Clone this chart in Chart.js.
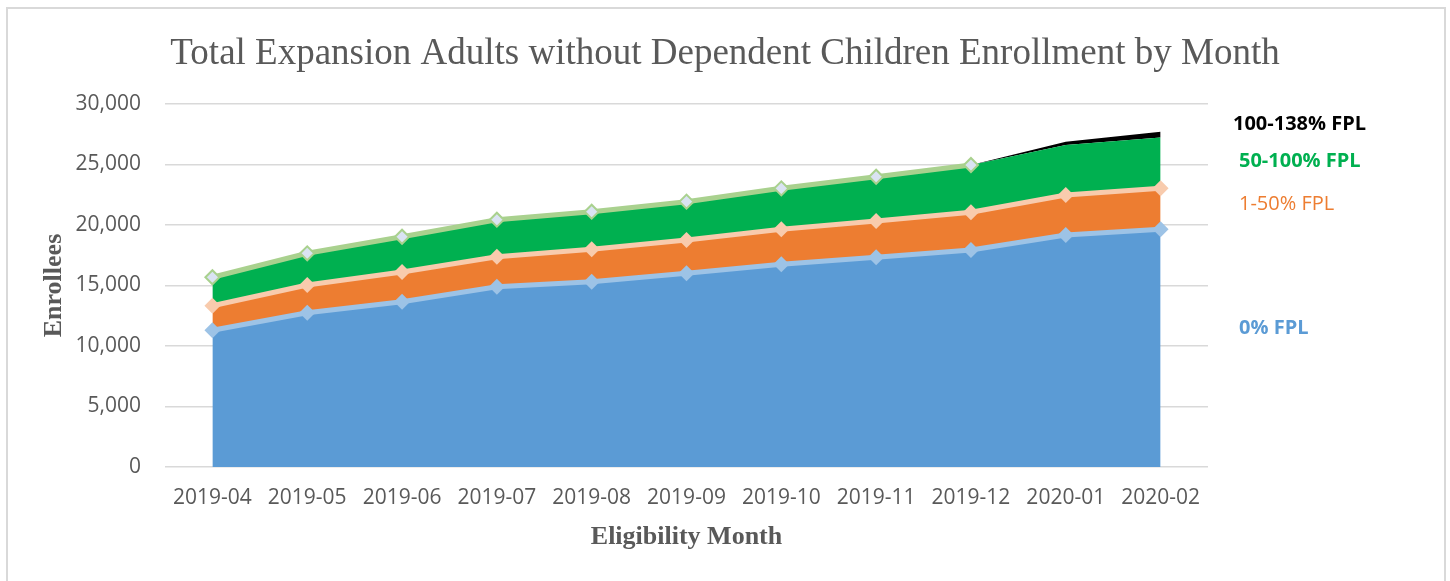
<!DOCTYPE html>
<html>
<head>
<meta charset="utf-8">
<title>Total Expansion Adults without Dependent Children Enrollment by Month</title>
<script src="https://cdn.jsdelivr.net/npm/chart.js@4.4.1/dist/chart.umd.min.js"></script>
<style>
  body { margin: 0; background: #fff; }
  #frame { position: absolute; left: 6px; top: 7px; width: 1436px; height: 600px; border: 2px solid #d9d9d9; }
  #wrap { position: absolute; left: 0; top: 0; width: 1450px; height: 581px; }
</style>
</head>
<body>
<div id="frame"></div>
<div id="wrap"><canvas id="chart" width="1450" height="581"></canvas></div>
<script>
// data (enrollees per FPL band, stacked)
const months = ["2019-04", "2019-05", "2019-06", "2019-07", "2019-08", "2019-09",
                "2019-10", "2019-11", "2019-12", "2020-01", "2020-02"];
const fpl0 = [11300, 12750, 13650, 14900, 15310, 16010, 16750, 17330, 17930, 19170, 19640];
const fpl1to50 = [2030, 2290, 2470, 2480, 2680, 2750, 2890, 3000, 3120, 3310, 3390];
const fpl50to100 = [2350, 2620, 2910, 3060, 3110, 3170, 3390, 3660, 3910, 4130, 4210];
const fpl100to138 = [0, 0, 0, 0, 0, 0, 0, 0, 0, 270, 470];
const yMax = 30000;
const yStep = 5000;

const chartTitle = "Total Expansion Adults without Dependent Children Enrollment by Month";

// band labels on the right side
const bandLabels = [
  { text: "100-138% FPL", color: "#000000", bold: true, x: 1233, y: 124 },
  { text: "50-100% FPL", color: "#00B050", bold: true, x: 1239, y: 161 },
  { text: "1-50% FPL", color: "#ED7D31", bold: false, x: 1239, y: 204 },
  { text: "0% FPL", color: "#5B9BD5", bold: true, x: 1239, y: 328 }
];

const lastGreen = 8; // light green top line + markers stop at 2019-12

// title is centred on the whole frame, not on the plot, so draw it by hand
const textPlugin = {
  id: "textBits",
  afterDraw(chart) {
    const ctx = chart.ctx;
    ctx.save();
    ctx.textAlign = "center";
    ctx.textBaseline = "alphabetic";
    ctx.font = "37px 'Liberation Serif', 'Times New Roman', serif";
    ctx.fillStyle = "#595959";
    ctx.fillText(chartTitle, 725, 64);

    ctx.textAlign = "left";
    ctx.textBaseline = "middle";
    bandLabels.forEach(l => {
      ctx.font = (l.bold ? "bold " : "") + "20px 'Open Sans'";
      ctx.fillStyle = l.color;
      ctx.fillText(l.text, l.x, l.y);
    });
    ctx.restore();
  }
};

const ctx = document.getElementById("chart").getContext("2d");
new Chart(ctx, {
  type: "line",
  data: {
    labels: months,
    datasets: [
      {
        label: "0% FPL",
        data: fpl0,
        fill: "origin",
        backgroundColor: "#5B9BD5",
        borderColor: "#9DC3E6",
        borderWidth: 5,
        pointStyle: "rectRot",
        pointRadius: 8,
        pointBackgroundColor: "#9DC3E6",
        pointBorderColor: "#9DC3E6",
        pointBorderWidth: 0
      },
      {
        label: "1-50% FPL",
        data: fpl1to50,
        fill: "-1",
        backgroundColor: "#ED7D31",
        borderColor: "#F8CBAD",
        borderWidth: 5,
        pointStyle: "rectRot",
        pointRadius: 8,
        pointBackgroundColor: "#F8CBAD",
        pointBorderColor: "#F8CBAD",
        pointBorderWidth: 0
      },
      {
        label: "50-100% FPL",
        data: fpl50to100,
        fill: "-1",
        backgroundColor: "#00B050",
        borderColor: "rgba(0,0,0,0)",
        borderWidth: 1,
        pointRadius: 0
      },
      {
        // top band; its edge carries the light green line up to 2019-12
        label: "100-138% FPL",
        data: fpl100to138,
        fill: "-1",
        backgroundColor: "#000000",
        borderColor: "#A9D18E",
        borderWidth: 5,
        segment: {
          borderColor: c => c.p0DataIndex >= lastGreen ? "rgba(0,0,0,0)" : undefined
        },
        pointStyle: "rectRot",
        pointRadius: months.map((m, i) => i > lastGreen ? 0 : 7),
        pointBackgroundColor: "#DAE3F3",
        pointBorderColor: "#A9D18E",
        pointBorderWidth: 2
      }
    ]
  },
  options: {
    responsive: false,
    animation: false,
    events: [],
    layout: { padding: { left: 0, right: 242, top: 104, bottom: 28 } },
    elements: { line: { tension: 0 } },
    plugins: {
      legend: { display: false },
      tooltip: { enabled: false },
      title: { display: false },
      filler: { drawTime: "beforeDatasetsDraw" }
    },
    scales: {
      x: {
        offset: true,
        afterFit: scale => { scale.height = 86; },
        grid: { display: false, drawTicks: false },
        border: { display: false },
        ticks: {
          color: "#595959",
          padding: 18,
          maxRotation: 0,
          font: { family: "'Open Sans'", size: 21 }
        },
        title: {
          display: true,
          text: "Eligibility Month",
          color: "#595959",
          padding: { top: 11, bottom: 0 },
          font: { family: "'Liberation Serif', 'Times New Roman', serif", size: 26, weight: "bold" }
        }
      },
      y: {
        stacked: true,
        min: 0,
        max: yMax,
        afterFit: scale => { scale.width = 165; },
        grid: { color: "#d9d9d9", lineWidth: 1.5, drawTicks: false },
        border: { display: false },
        ticks: {
          stepSize: yStep,
          color: "#595959",
          padding: 24,
          font: { family: "'Open Sans'", size: 21 },
          callback: v => v.toLocaleString("en-US")
        },
        title: {
          display: true,
          text: "Enrollees",
          color: "#595959",
          padding: { top: 39, bottom: 0 },
          font: { family: "'Liberation Serif', 'Times New Roman', serif", size: 26, weight: "bold" }
        }
      }
    }
  },
  plugins: [textPlugin]
});
</script>
</body>
</html>
